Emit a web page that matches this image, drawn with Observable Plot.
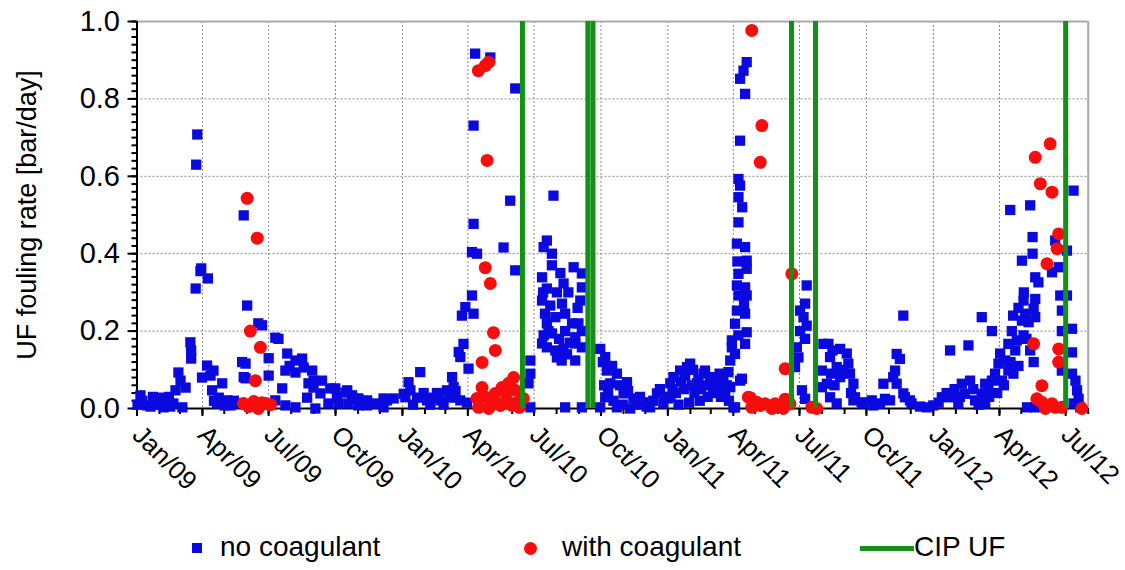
<!DOCTYPE html>
<html><head><meta charset="utf-8">
<script src="https://cdn.jsdelivr.net/npm/d3@7"></script>
<script src="https://cdn.jsdelivr.net/npm/@observablehq/plot@0.6"></script>
<style>
body{margin:0;background:#fff;font-family:"Liberation Sans",Arial,sans-serif;}
#legend{position:relative;width:1125px;height:55px;font-size:28px;color:#000;}
#legend span{position:absolute;white-space:nowrap;}
</style></head>
<body><div id="chart"></div><div id="legend"></div>
<script>
// decimal year, UF fouling rate [bar/day]
const noCoagulant = [
[2009.002,0.010],[2009.013,0.034],[2009.020,0.020],[2009.038,0.008],[2009.051,0.005],[2009.060,0.030],[2009.070,0.020],[2009.080,0.010],[2009.088,0.028],[2009.100,0.003],[2009.110,0.015],[2009.120,0.030],[2009.125,0.005],[2009.137,0.013],[2009.171,0.003],[2009.145,0.047],[2009.156,0.093],[2009.164,0.072],[2009.183,0.054],[2009.201,0.171],[2009.204,0.150],[2009.204,0.129],[2009.221,0.310],[2009.223,0.630],[2009.227,0.708],[2009.239,0.355],[2009.242,0.362],[2009.267,0.336],[2009.245,0.080],[2009.264,0.111],[2009.277,0.085],[2009.288,0.098],[2009.283,0.047],[2009.290,0.020],[2009.321,0.065],[2009.308,0.028],[2009.330,0.008],[2009.340,0.021],[2009.302,0.013],[2009.352,0.008],[2009.365,0.020],[2009.377,0.013],[2009.396,0.120],[2009.402,0.081],[2009.402,0.499],[2009.409,0.116],[2009.409,0.078],[2009.415,0.266],[2009.457,0.220],[2009.471,0.215],[2009.521,0.183],[2009.533,0.180],[2009.496,0.130],[2009.496,0.085],[2009.566,0.142],[2009.575,0.110],[2009.597,0.124],[2009.622,0.129],[2009.628,0.106],[2009.559,0.098],[2009.660,0.098],[2009.597,0.093],[2009.547,0.052],[2009.646,0.065],[2009.665,0.054],[2009.665,0.072],[2009.697,0.072],[2009.691,0.039],[2009.641,0.028],[2009.728,0.052],[2009.747,0.052],[2009.753,0.028],[2009.785,0.041],[2009.792,0.047],[2009.810,0.034],[2009.815,0.026],[2009.834,0.026],[2009.521,0.021],[2009.559,0.008],[2009.597,0.003],[2009.672,0.000],[2009.721,0.013],[2009.759,0.013],[2009.796,0.013],[2009.834,0.008],[2009.860,0.013],[2009.867,0.008],[2009.867,0.021],[2009.904,0.013],[2009.929,0.003],[2009.929,0.026],[2009.942,0.021],[2009.967,0.026],
[2010.011,0.029],[2010.023,0.068],[2010.030,0.047],[2010.005,0.038],[2010.040,0.010],[2010.055,0.028],[2010.067,0.094],[2010.080,0.040],[2010.093,0.021],[2010.105,0.010],[2010.117,0.028],[2010.130,0.040],[2010.143,0.021],[2010.155,0.010],[2010.168,0.047],[2010.180,0.030],[2010.187,0.081],[2010.193,0.055],[2010.193,0.028],[2010.200,0.045],[2010.212,0.146],[2010.218,0.133],[2010.218,0.021],[2010.230,0.167],[2010.224,0.240],[2010.237,0.262],[2010.243,0.015],[2010.249,0.103],[2010.262,0.292],[2010.268,0.245],[2010.262,0.404],[2010.281,0.400],[2010.268,0.477],[2010.268,0.731],[2010.274,0.917],[2010.331,0.907],[2010.425,0.827],[2010.406,0.537],[2010.381,0.416],[2010.425,0.357],[2010.482,0.124],[2010.482,0.090],[2010.475,0.065],[2010.482,0.003],[2010.613,0.003],[2010.676,0.003],
[2010.569,0.550],[2010.544,0.434],[2010.532,0.417],[2010.563,0.400],[2010.563,0.370],[2010.645,0.365],[2010.676,0.349],[2010.526,0.339],[2010.607,0.323],[2010.544,0.310],[2010.582,0.300],[2010.676,0.313],[2010.526,0.279],[2010.557,0.266],[2010.601,0.271],[2010.670,0.279],[2010.537,0.245],[2010.576,0.236],[2010.613,0.245],[2010.639,0.220],[2010.663,0.220],[2010.544,0.220],[2010.532,0.189],[2010.563,0.194],[2010.613,0.200],[2010.651,0.184],[2010.676,0.200],[2010.526,0.168],[2010.544,0.158],[2010.576,0.150],[2010.607,0.155],[2010.651,0.168],[2010.676,0.158],[2010.582,0.132],[2010.651,0.124],[2010.600,0.124],[2010.620,0.140],[2010.530,0.300],[2010.550,0.200],[2010.590,0.180],[2010.630,0.170],[2010.660,0.260],[2010.595,0.350],[2010.625,0.300],
[2010.745,0.154],[2010.755,0.120],[2010.760,0.060],[2010.764,0.133],[2010.770,0.098],[2010.775,0.040],[2010.790,0.110],[2010.795,0.020],[2010.808,0.090],[2010.783,0.065],[2010.820,0.060],[2010.830,0.010],[2010.846,0.068],[2010.850,0.045],[2010.764,0.029],[2010.833,0.039],[2010.870,0.026],[2010.880,0.010],[2010.895,0.030],[2010.908,0.016],[2010.920,0.005],[2010.945,0.020],[2010.959,0.039],[2010.970,0.050],[2010.990,0.030],[2010.745,0.003],[2010.808,0.003],[2010.858,0.000],[2010.933,0.003],[2010.983,0.013],
[2011.000,0.026],[2011.009,0.065],[2011.010,0.030],[2011.018,0.050],[2011.021,0.081],[2011.030,0.040],[2011.040,0.010],[2011.046,0.098],[2011.050,0.070],[2011.060,0.050],[2011.065,0.085],[2011.072,0.107],[2011.080,0.015],[2011.084,0.116],[2011.090,0.060],[2011.095,0.100],[2011.100,0.040],[2011.109,0.065],[2011.115,0.075],[2011.120,0.020],[2011.125,0.050],[2011.134,0.090],[2011.145,0.060],[2011.150,0.030],[2011.159,0.081],[2011.170,0.040],[2011.175,0.070],[2011.184,0.065],[2011.190,0.045],[2011.195,0.090],[2011.200,0.030],[2011.209,0.081],[2011.222,0.060],[2011.230,0.020],[2011.235,0.055],[2011.272,0.072],[2011.253,0.003],
[2011.297,0.895],[2011.285,0.873],[2011.272,0.852],[2011.291,0.813],[2011.272,0.692],[2011.266,0.593],[2011.272,0.576],[2011.266,0.546],[2011.280,0.520],[2011.266,0.481],[2011.260,0.426],[2011.291,0.417],[2011.297,0.382],[2011.262,0.380],[2011.266,0.348],[2011.297,0.361],[2011.260,0.318],[2011.291,0.313],[2011.266,0.292],[2011.297,0.292],[2011.287,0.270],[2011.260,0.253],[2011.291,0.245],[2011.253,0.219],[2011.297,0.197],[2011.266,0.189],[2011.291,0.167],[2011.241,0.176],[2011.253,0.141],[2011.235,0.124],[2011.241,0.158],[2011.279,0.077],[2011.228,0.094],[2011.203,0.064],[2011.166,0.081],[2011.140,0.098],[2011.178,0.047],[2011.216,0.038],[2011.247,0.003],
[2011.523,0.318],[2011.517,0.271],[2011.498,0.253],[2011.511,0.236],[2011.523,0.214],[2011.498,0.200],[2011.517,0.180],[2011.486,0.158],[2011.492,0.132],[2011.479,0.107],[2011.505,0.047],[2011.517,0.025],[2011.586,0.167],[2011.580,0.098],[2011.580,0.055],
[2011.605,0.167],[2011.615,0.090],[2011.620,0.150],[2011.628,0.060],[2011.649,0.154],[2011.660,0.100],[2011.674,0.142],[2011.611,0.133],[2011.636,0.107],[2011.680,0.116],[2011.686,0.090],[2011.690,0.040],[2011.699,0.064],[2011.649,0.081],[2011.599,0.064],[2011.611,0.029],[2011.636,0.013],[2011.699,0.021],[2011.705,0.029],[2011.730,0.016],[2011.736,0.013],[2011.768,0.021],[2011.774,0.008],[2011.799,0.013],[2011.812,0.064],[2011.818,0.025],[2011.837,0.021],[2011.849,0.081],[2011.856,0.098],[2011.862,0.141],[2011.862,0.064],[2011.874,0.128],[2011.887,0.240],[2011.887,0.039],[2011.893,0.029],[2011.912,0.021],[2011.918,0.013],[2011.950,0.005],[2011.975,0.003],
[2012.000,0.008],[2012.020,0.015],[2012.032,0.029],[2012.050,0.040],[2012.063,0.150],[2012.132,0.163],[2012.069,0.029],[2012.080,0.050],[2012.100,0.030],[2012.107,0.064],[2012.138,0.072],[2012.119,0.038],[2012.150,0.050],[2012.157,0.021],[2012.170,0.010],[2012.182,0.038],[2012.207,0.055],[2012.210,0.030],[2012.195,0.013],[2012.094,0.013],[2012.182,0.236],[2012.220,0.200],[2012.240,0.040],[2012.251,0.142],[2012.265,0.060],[2012.270,0.124],[2012.245,0.116],[2012.282,0.098],[2012.290,0.120],[2012.301,0.090],[2012.232,0.090],[2012.258,0.072],[2012.220,0.072],[2012.195,0.064],[2012.295,0.200],[2012.300,0.240],[2012.314,0.176],[2012.320,0.110],[2012.320,0.260],[2012.339,0.189],[2012.340,0.300],[2012.350,0.180],[2012.282,0.167],[2012.308,0.150],[2012.289,0.513],[2012.364,0.525],[2012.373,0.443],[2012.373,0.400],[2012.333,0.382],[2012.383,0.339],[2012.395,0.326],[2012.339,0.279],[2012.383,0.283],[2012.377,0.258],[2012.345,0.245],[2012.333,0.227],[2012.358,0.223],[2012.383,0.236],[2012.364,0.150],[2012.377,0.120],[2012.352,0.003],[2012.383,0.003],[2012.458,0.434],[2012.502,0.408],[2012.446,0.352],[2012.471,0.365],[2012.477,0.292],[2012.502,0.292],[2012.483,0.253],[2012.483,0.200],[2012.521,0.206],[2012.521,0.145],[2012.483,0.098],[2012.521,0.090],[2012.534,0.072],[2012.540,0.047],[2012.546,0.025],[2012.527,0.013],[2012.552,0.003],[2012.527,0.563]
];
const withCoagulant = [
[2009.401,0.013],[2009.415,0.543],[2009.453,0.440],[2009.427,0.200],[2009.465,0.158],[2009.446,0.072],[2009.434,0.008],[2009.471,0.015],[2009.457,0.000],[2009.484,0.013],[2009.420,0.005],[2009.503,0.010],[2009.440,0.018],
[2010.286,0.873],[2010.312,0.886],[2010.325,0.895],[2010.319,0.641],[2010.312,0.364],[2010.331,0.323],[2010.343,0.196],[2010.350,0.150],[2010.300,0.119],[2010.300,0.054],[2010.319,0.028],[2010.350,0.039],[2010.375,0.054],[2010.400,0.065],[2010.419,0.080],[2010.425,0.047],[2010.394,0.021],[2010.356,0.013],[2010.325,0.000],[2010.287,0.003],[2010.413,0.008],[2010.431,0.015],[2010.455,0.026],[2010.281,0.026],[2010.369,0.008],[2010.338,0.021],[2010.440,0.003],[2010.390,0.040],
[2011.316,0.977],[2011.354,0.731],[2011.348,0.636],[2011.467,0.348],[2011.442,0.103],[2011.303,0.029],[2011.335,0.016],[2011.366,0.012],[2011.404,0.012],[2011.442,0.024],[2011.460,0.012],[2011.316,0.003],[2011.392,0.000],[2011.435,0.000],[2011.542,0.003],[2011.561,0.000],[2011.348,0.008],[2011.310,0.028],[2011.420,0.008],
[2012.439,0.684],[2012.383,0.649],[2012.402,0.581],[2012.446,0.559],[2012.471,0.451],[2012.465,0.413],[2012.427,0.374],[2012.377,0.167],[2012.471,0.154],[2012.471,0.120],[2012.408,0.059],[2012.389,0.025],[2012.408,0.016],[2012.446,0.012],[2012.458,0.003],[2012.421,0.000],[2012.483,0.003],[2012.558,0.000]
];
const cipDates = ["2010-06-15","2010-09-13","2010-09-20","2011-06-20","2011-07-23","2012-07-01"];
const xDomain = ["2009-01-01","2012-08-01"];
const xTickDates = ["2009-01-01","2009-04-01","2009-07-01","2009-10-01","2010-01-01","2010-04-01","2010-07-01","2010-10-01","2011-01-01","2011-04-01","2011-07-01","2011-10-01","2012-01-01","2012-04-01","2012-07-01"];
const xTickLabels = ["Jan/09","Apr/09","Jul/09","Oct/09","Jan/10","Apr/10","Jul/10","Oct/10","Jan/11","Apr/11","Jul/11","Oct/11","Jan/12","Apr/12","Jul/12"];
const yTicks = [0, 0.2, 0.4, 0.6, 0.8, 1.0];
const yLabel = "UF fouling rate [bar/day]";
const seriesNames = ["no coagulant", "with coagulant", "CIP UF"];
const seriesColors = ["#0a0ae0", "#f80c0c", "#129114"];

const toDate = t => { const y = Math.floor(t), a = Date.UTC(y,0,1), b = Date.UTC(y+1,0,1); return new Date(a + (t - y) * (b - a)); };
const blue = noCoagulant.map(([t, v]) => ({date: toDate(t), rate: v}));
const red = withCoagulant.map(([t, v]) => ({date: toDate(t), rate: v}));
const cip = cipDates.map(d => new Date(d));
const x0 = new Date(xDomain[0]), x1 = new Date(xDomain[1]);
const xTicks = xTickDates.map(d => new Date(d));
const months = d3.utcMonth.range(x0, d3.utcDay.offset(x1, 1));
const minorY = d3.ticks(0, 1, 50);
const fmtX = d => xTickLabels[xTicks.findIndex(t => +t === +d)];

const grid = {stroke: "#8a8a8a", strokeOpacity: 1, strokeDasharray: "2,2", strokeWidth: 1};
const chart = Plot.plot({
  width: 1125, height: 515,
  marginLeft: 136.5, marginRight: 37.3, marginTop: 21, marginBottom: 107,
  style: {fontFamily: "'Liberation Sans', Arial, sans-serif", background: "#fff", color: "#000"},
  x: {type: "utc", domain: [x0, x1]},
  y: {domain: [0, 1]},
  marks: [
    Plot.gridX(xTicks, grid),
    Plot.gridY(yTicks, grid),
    Plot.ruleY([1], {stroke: "#aaa", strokeWidth: 2}),
    Plot.ruleX([x1], {stroke: "#aaa", strokeWidth: 2}),
    Plot.axisY(minorY, {tickSize: 5, tickFormat: () => "", strokeWidth: 2, label: null}),
    Plot.axisY(yTicks, {tickSize: 9, tickPadding: 8, tickFormat: d => d.toFixed(1), fontSize: 29, strokeWidth: 2,
      label: yLabel, labelAnchor: "center", labelOffset: 120, labelArrow: "none"}),
    Plot.axisX(months, {tickSize: 6, tickFormat: () => "", strokeWidth: 2, label: null}),
    Plot.axisX(xTicks, {tickSize: 8, tickPadding: 14, tickRotate: 45, textAnchor: "start", fontSize: 26, tickFormat: fmtX, strokeWidth: 2, label: null}),
    Plot.ruleY([0], {stroke: "#000", strokeWidth: 2}),
    Plot.ruleX([x0], {stroke: "#000", strokeWidth: 2}),
    Plot.dot(blue, {x: "date", y: "rate", symbol: "square", r: 5.8, fill: seriesColors[0]}),
    Plot.dot(red, {x: "date", y: "rate", r: 6.5, fill: seriesColors[1]}),
    Plot.ruleX(cip, {stroke: seriesColors[2], strokeWidth: 5})
  ]
});
document.getElementById("chart").append(chart);
// make the axis title a bit smaller than the tick labels
chart.querySelectorAll("text").forEach(t => { if (t.textContent === yLabel) t.setAttribute("font-size", 27); });

const lg = document.getElementById("legend");
lg.innerHTML = `
<span style="left:192px;top:28px;width:10px;height:10px;background:${seriesColors[0]}"></span>
<span style="left:220px;top:16px;">${seriesNames[0]}</span>
<span style="left:524px;top:27px;width:13px;height:13px;border-radius:50%;background:${seriesColors[1]}"></span>
<span style="left:562px;top:16px;">${seriesNames[1]}</span>
<span style="left:860px;top:31px;width:54px;height:5px;background:${seriesColors[2]}"></span>
<span style="left:914px;top:16px;">${seriesNames[2]}</span>`;
</script>
</body></html>
